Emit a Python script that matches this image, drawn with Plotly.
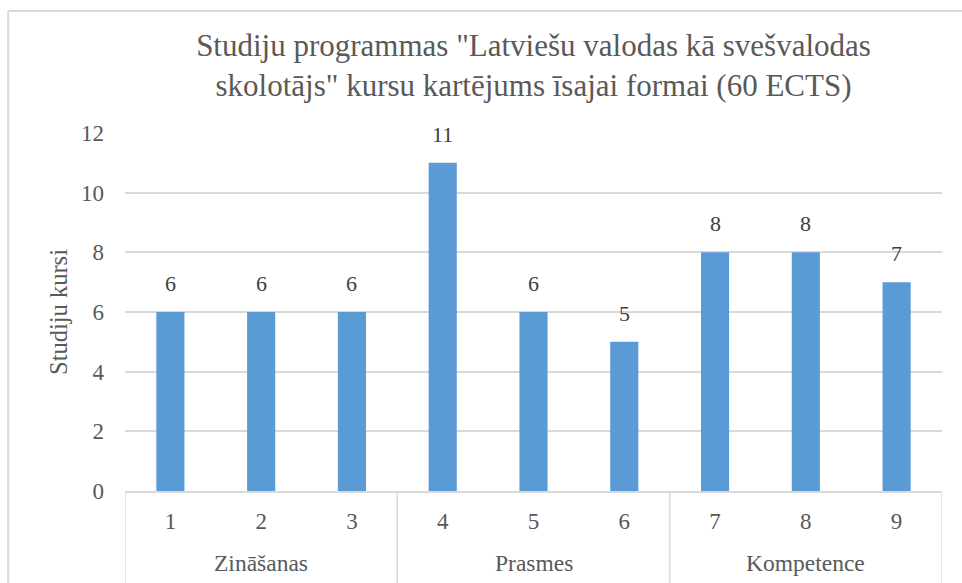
import plotly.graph_objects as go

groups = ["Zināšanas", "Zināšanas", "Zināšanas", "Prasmes", "Prasmes", "Prasmes",
          "Kompetence", "Kompetence", "Kompetence"]
categories = ["1", "2", "3", "4", "5", "6", "7", "8", "9"]
values = [6, 6, 6, 11, 6, 5, 8, 8, 7]
y_ticks = [0, 2, 4, 6, 8, 10, 12]

title_text = ('Studiju programmas "Latviešu valodas kā svešvalodas<br>'
              'skolotājs" kursu kartējums īsajai formai (60 ECTS)')

FONT = "Liberation Serif"
TXT = "#595959"
GRID = "#D9D9D9"

fig = go.Figure(go.Bar(
    x=categories,
    y=values,
    marker=dict(color="#5B9BD5", line=dict(width=0)),
    hoverinfo="x+y",
))

annotations = []
# value labels above bars (category index positions)
for i, v in enumerate(values):
    annotations.append(dict(x=i, y=v, xref="x", yref="y", text=str(v), showarrow=False,
                            yanchor="bottom", yshift=14,
                            font=dict(family=FONT, size=22, color="#404040")))

# group labels and dividers built from the group list
shapes = []
start = 0
bounds = [-0.5]
for i in range(1, len(groups) + 1):
    if i == len(groups) or groups[i] != groups[start]:
        mid = (start + i - 1) / 2
        annotations.append(dict(x=mid, y=-0.201, xref="x", yref="paper", text=groups[start],
                                showarrow=False, yanchor="middle",
                                font=dict(family=FONT, size=23.5, color=TXT)))
        bounds.append(i - 0.5)
        start = i
for b in bounds:
    shapes.append(dict(type="line", xref="x", yref="paper", x0=b, x1=b, y0=0, y1=-0.3,
                       line=dict(color=GRID, width=1.5)))

# outer chart border (top and left edges visible)
shapes.append(dict(type="line", xref="paper", yref="paper", x0=-0.143, x1=1.1, y0=1.341, y1=1.341,
                   line=dict(color=GRID, width=2)))
shapes.append(dict(type="line", xref="paper", yref="paper", x0=-0.143, x1=-0.143, y0=1.341, y1=-0.4,
                   line=dict(color=GRID, width=2)))

fig.update_layout(
    width=962, height=583,
    paper_bgcolor="white", plot_bgcolor="white",
    margin=dict(l=125, r=20, t=133, b=92, autoexpand=False),
    bargap=0.69,
    showlegend=False,
    font=dict(family=FONT, color=TXT),
    title=dict(text=title_text, x=0.5, xanchor="center", xref="paper",
               y=(583 - 56) / 583, yanchor="middle", yref="container",
               font=dict(family=FONT, size=31, color=TXT)),
    xaxis=dict(type="category", range=[-0.5, len(categories) - 0.5],
               showline=True, linecolor=GRID, linewidth=1.5,
               ticks="", tickfont=dict(family=FONT, size=23, color=TXT),
               ticklabelstandoff=9, showgrid=False, automargin=False),
    yaxis=dict(range=[0, 12], tickvals=y_ticks, showgrid=True, gridcolor=GRID,
               gridwidth=1.5, zeroline=False, showline=False, automargin=False,
               tickfont=dict(family=FONT, size=23, color=TXT),
               ticklabelstandoff=20,
               title=dict(text="Studiju kursi", standoff=6,
                          font=dict(family=FONT, size=24.5, color=TXT))),
    shapes=shapes,
    annotations=annotations,
)

fig.write_html("out.html", config={"displayModeBar": False},
               post_script="document.body.style.margin='0';document.body.style.padding='0';")
